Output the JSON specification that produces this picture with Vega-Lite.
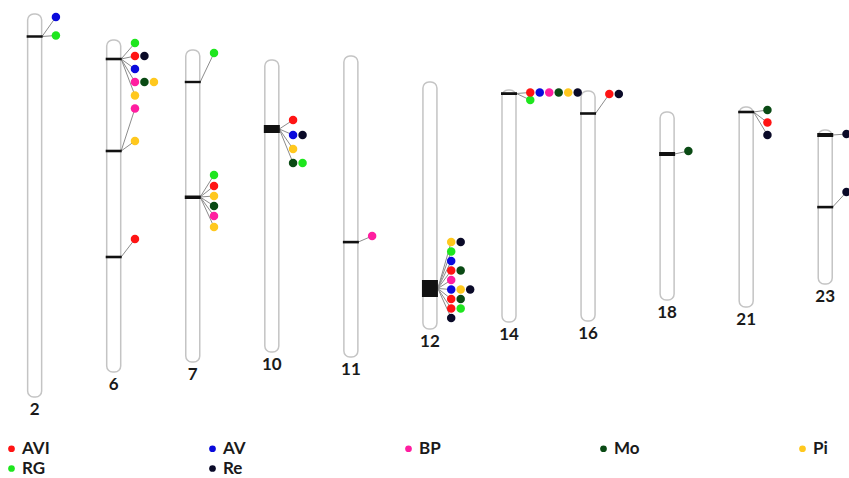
{
  "$schema": "https://vega.github.io/schema/vega-lite/v6.json",
  "width": 849,
  "height": 478,
  "autosize": {"type": "fit", "contains": "padding"},
  "padding": 0,
  "background": "white",
  "config": {"view": {"stroke": null}},
  "datasets": {
    "chroms": [
      {"i": 0, "name": "2", "top": 14, "bottom": 397},
      {"i": 1, "name": "6", "top": 40, "bottom": 372},
      {"i": 2, "name": "7", "top": 50, "bottom": 362},
      {"i": 3, "name": "10", "top": 60, "bottom": 352},
      {"i": 4, "name": "11", "top": 56, "bottom": 357},
      {"i": 5, "name": "12", "top": 82, "bottom": 329},
      {"i": 6, "name": "14", "top": 90, "bottom": 322},
      {"i": 7, "name": "16", "top": 91, "bottom": 321},
      {"i": 8, "name": "18", "top": 112, "bottom": 300},
      {"i": 9, "name": "21", "top": 107, "bottom": 307},
      {"i": 10, "name": "23", "top": 130, "bottom": 284}
    ],
    "bands": [
      {"i": 0, "y0": 35.2, "y1": 37.8},
      {"i": 1, "y0": 57.7, "y1": 60.3},
      {"i": 1, "y0": 149.7, "y1": 152.3},
      {"i": 1, "y0": 255.7, "y1": 258.3},
      {"i": 2, "y0": 80.8, "y1": 83.2},
      {"i": 2, "y0": 195.5, "y1": 199},
      {"i": 3, "y0": 125, "y1": 133},
      {"i": 4, "y0": 240.8, "y1": 243.4},
      {"i": 5, "y0": 280, "y1": 297},
      {"i": 6, "y0": 92.2, "y1": 95},
      {"i": 7, "y0": 112.2, "y1": 114.8},
      {"i": 8, "y0": 152, "y1": 156},
      {"i": 9, "y0": 110.7, "y1": 113.3},
      {"i": 10, "y0": 133, "y1": 137},
      {"i": 10, "y0": 205.8, "y1": 208.4}
    ],
    "links": [
      {"x0": 0.094, "y0": 36.5, "x1": 0.269, "y1": 17},
      {"x0": 0.094, "y0": 36.5, "x1": 0.269, "y1": 35.5},
      {"x0": 1.094, "y0": 59, "x1": 1.269, "y1": 43},
      {"x0": 1.094, "y0": 59, "x1": 1.269, "y1": 56},
      {"x0": 1.094, "y0": 59, "x1": 1.269, "y1": 69},
      {"x0": 1.094, "y0": 59, "x1": 1.269, "y1": 82},
      {"x0": 1.094, "y0": 59, "x1": 1.269, "y1": 95.5},
      {"x0": 1.094, "y0": 151, "x1": 1.269, "y1": 108.5},
      {"x0": 1.094, "y0": 151, "x1": 1.269, "y1": 141},
      {"x0": 1.094, "y0": 257, "x1": 1.269, "y1": 239},
      {"x0": 2.094, "y0": 82, "x1": 2.269, "y1": 53},
      {"x0": 2.094, "y0": 197, "x1": 2.269, "y1": 175},
      {"x0": 2.094, "y0": 197, "x1": 2.269, "y1": 186},
      {"x0": 2.094, "y0": 197, "x1": 2.269, "y1": 196},
      {"x0": 2.094, "y0": 197, "x1": 2.269, "y1": 206},
      {"x0": 2.094, "y0": 197, "x1": 2.269, "y1": 216},
      {"x0": 2.094, "y0": 197, "x1": 2.269, "y1": 227},
      {"x0": 3.094, "y0": 129, "x1": 3.269, "y1": 120},
      {"x0": 3.094, "y0": 129, "x1": 3.269, "y1": 135},
      {"x0": 3.094, "y0": 129, "x1": 3.269, "y1": 149},
      {"x0": 3.094, "y0": 129, "x1": 3.269, "y1": 163},
      {"x0": 4.094, "y0": 242, "x1": 4.269, "y1": 236},
      {"x0": 5.1, "y0": 288.5, "x1": 5.269, "y1": 242},
      {"x0": 5.1, "y0": 288.5, "x1": 5.269, "y1": 251.5},
      {"x0": 5.1, "y0": 288.5, "x1": 5.269, "y1": 261},
      {"x0": 5.1, "y0": 288.5, "x1": 5.269, "y1": 270.5},
      {"x0": 5.1, "y0": 288.5, "x1": 5.269, "y1": 280},
      {"x0": 5.1, "y0": 288.5, "x1": 5.269, "y1": 289.5},
      {"x0": 5.1, "y0": 288.5, "x1": 5.269, "y1": 299},
      {"x0": 5.1, "y0": 288.5, "x1": 5.269, "y1": 308.5},
      {"x0": 5.1, "y0": 288.5, "x1": 5.269, "y1": 318},
      {"x0": 6.094, "y0": 93.5, "x1": 6.269, "y1": 92.5},
      {"x0": 6.094, "y0": 93.5, "x1": 6.269, "y1": 100},
      {"x0": 7.094, "y0": 113.5, "x1": 7.269, "y1": 94},
      {"x0": 8.094, "y0": 154, "x1": 8.269, "y1": 151},
      {"x0": 9.094, "y0": 112, "x1": 9.269, "y1": 110},
      {"x0": 9.094, "y0": 112, "x1": 9.269, "y1": 122.5},
      {"x0": 9.094, "y0": 112, "x1": 9.269, "y1": 135},
      {"x0": 10.094, "y0": 135, "x1": 10.269, "y1": 134},
      {"x0": 10.094, "y0": 207, "x1": 10.269, "y1": 192}
    ],
    "markers": [
      {"x": 0.269, "y": 17, "t": "AV"},
      {"x": 0.269, "y": 35.5, "t": "RG"},
      {"x": 1.269, "y": 43, "t": "RG"},
      {"x": 1.269, "y": 56, "t": "AVI"},
      {"x": 1.389, "y": 56, "t": "Re"},
      {"x": 1.269, "y": 69, "t": "AV"},
      {"x": 1.269, "y": 82, "t": "BP"},
      {"x": 1.389, "y": 82, "t": "Mo"},
      {"x": 1.509, "y": 82, "t": "Pi"},
      {"x": 1.269, "y": 95.5, "t": "Pi"},
      {"x": 1.269, "y": 108.5, "t": "BP"},
      {"x": 1.269, "y": 141, "t": "Pi"},
      {"x": 1.269, "y": 239, "t": "AVI"},
      {"x": 2.269, "y": 53, "t": "RG"},
      {"x": 2.269, "y": 175, "t": "RG"},
      {"x": 2.269, "y": 186, "t": "AVI"},
      {"x": 2.269, "y": 196, "t": "Pi"},
      {"x": 2.269, "y": 206, "t": "Mo"},
      {"x": 2.269, "y": 216, "t": "BP"},
      {"x": 2.269, "y": 227, "t": "Pi"},
      {"x": 3.269, "y": 120, "t": "AVI"},
      {"x": 3.269, "y": 135, "t": "AV"},
      {"x": 3.389, "y": 135, "t": "Re"},
      {"x": 3.269, "y": 149, "t": "Pi"},
      {"x": 3.269, "y": 163, "t": "Mo"},
      {"x": 3.389, "y": 163, "t": "RG"},
      {"x": 4.269, "y": 236, "t": "BP"},
      {"x": 5.269, "y": 242, "t": "Pi"},
      {"x": 5.389, "y": 242, "t": "Re"},
      {"x": 5.269, "y": 251.5, "t": "RG"},
      {"x": 5.269, "y": 261, "t": "AV"},
      {"x": 5.269, "y": 270.5, "t": "AVI"},
      {"x": 5.389, "y": 270.5, "t": "Mo"},
      {"x": 5.269, "y": 280, "t": "BP"},
      {"x": 5.269, "y": 289.5, "t": "AV"},
      {"x": 5.389, "y": 289.5, "t": "Pi"},
      {"x": 5.509, "y": 289.5, "t": "Re"},
      {"x": 5.269, "y": 299, "t": "AVI"},
      {"x": 5.389, "y": 299, "t": "Mo"},
      {"x": 5.269, "y": 308.5, "t": "AVI"},
      {"x": 5.389, "y": 308.5, "t": "RG"},
      {"x": 5.269, "y": 318, "t": "Re"},
      {"x": 6.269, "y": 100, "t": "RG"},
      {"x": 6.269, "y": 92.5, "t": "AVI"},
      {"x": 6.389, "y": 92.5, "t": "AV"},
      {"x": 6.509, "y": 92.5, "t": "BP"},
      {"x": 6.629, "y": 92.5, "t": "Mo"},
      {"x": 6.749, "y": 92.5, "t": "Pi"},
      {"x": 6.869, "y": 92.5, "t": "Re"},
      {"x": 7.269, "y": 94, "t": "AVI"},
      {"x": 7.389, "y": 94, "t": "Re"},
      {"x": 8.269, "y": 151, "t": "Mo"},
      {"x": 9.269, "y": 110, "t": "Mo"},
      {"x": 9.269, "y": 122.5, "t": "AVI"},
      {"x": 9.269, "y": 135, "t": "Re"},
      {"x": 10.269, "y": 134, "t": "Re"},
      {"x": 10.269, "y": 192, "t": "Re"}
    ]
  },
  "layer": [
    {
      "data": {"name": "chroms"},
      "mark": {"type": "bar", "width": 14, "cornerRadius": 6, "fill": "white", "stroke": "#c4c4c4", "strokeWidth": 1.5},
      "encoding": {
        "x": {"field": "i", "type": "quantitative", "scale": {"domain": [-0.375, 10.2375], "nice": false, "zero": false}, "axis": null},
        "y": {"field": "top", "type": "quantitative", "scale": {"domain": [0, 478], "nice": false, "zero": false, "reverse": true}, "axis": null},
        "y2": {"field": "bottom"}
      }
    },
    {
      "data": {"name": "links"},
      "mark": {"type": "rule", "color": "#8c8c8c", "strokeWidth": 1},
      "encoding": {
        "x": {"field": "x0", "type": "quantitative", "axis": null},
        "y": {"field": "y0", "type": "quantitative", "axis": null},
        "x2": {"field": "x1"},
        "y2": {"field": "y1"}
      }
    },
    {
      "data": {"name": "bands"},
      "mark": {"type": "bar", "width": 16, "fill": "#111111"},
      "encoding": {
        "x": {"field": "i", "type": "quantitative", "axis": null},
        "y": {"field": "y0", "type": "quantitative", "axis": null},
        "y2": {"field": "y1"}
      }
    },
    {
      "data": {"name": "markers"},
      "mark": {"type": "circle", "size": 72, "opacity": 1, "clip": true},
      "encoding": {
        "x": {"field": "x", "type": "quantitative", "axis": null},
        "y": {"field": "y", "type": "quantitative", "axis": null},
        "color": {
          "field": "t",
          "type": "nominal",
          "sort": null,
          "scale": {
            "domain": ["AVI", "AV", "BP", "Mo", "Pi", "RG", "Re"],
            "range": ["#ff1414", "#0a0adc", "#ff1ea0", "#0a4a14", "#ffc81e", "#1ee61e", "#0a0a28"]
          },
          "legend": {
            "title": null,
            "orient": "none",
            "direction": "horizontal",
            "legendX": 3,
            "legendY": 440,
            "columns": 5,
            "columnPadding": 154,
            "rowPadding": 2,
            "padding": 0,
            "symbolType": "circle",
            "symbolSize": 45,
            "symbolStrokeWidth": 0,
            "labelFont": "Lato",
            "labelFontWeight": "bold",
            "labelFontSize": 17,
            "labelColor": "#1a1a1a",
            "labelOffset": 2
          }
        }
      }
    },
    {
      "data": {"name": "chroms"},
      "mark": {"type": "text", "dy": 13, "baseline": "middle", "align": "center", "font": "Lato", "fontWeight": "bold", "fontSize": 17, "color": "#1a1a1a"},
      "encoding": {
        "x": {"field": "i", "type": "quantitative", "axis": null},
        "y": {"field": "bottom", "type": "quantitative", "axis": null},
        "text": {"field": "name"}
      }
    }
  ]
}
